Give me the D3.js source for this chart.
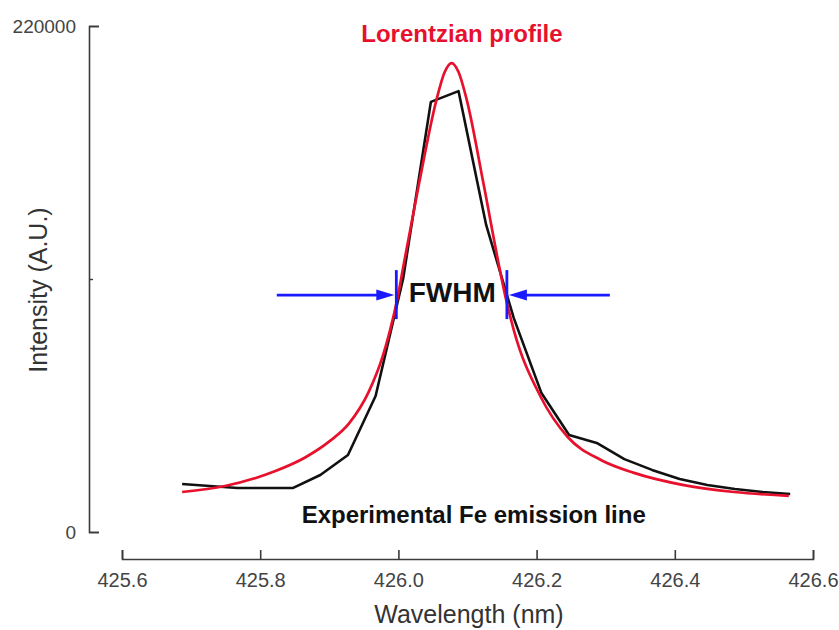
<!DOCTYPE html>
<html>
<head>
<meta charset="utf-8">
<script src="https://cdn.jsdelivr.net/npm/d3@7"></script>
<style>
  html, body { margin: 0; padding: 0; background: #fff; }
  svg { display: block; font-family: "Liberation Sans", Arial, sans-serif; }
</style>
</head>
<body>
<svg id="chart" width="839" height="630"></svg>
<script>
// Measured Fe I emission line (nm, arbitrary units)
const expWavelength = [425.687, 425.727, 425.767, 425.807, 425.847, 425.887, 425.927, 425.967,
  426.007, 426.047, 426.087, 426.127, 426.167, 426.207, 426.247, 426.287, 426.327, 426.367,
  426.407, 426.447, 426.487, 426.527, 426.567];
const expIntensity = [20900, 20000, 19100, 19100, 19100, 24800, 33500, 59100,
  110400, 187000, 191700, 133500, 93000, 60400, 42200, 38700, 31700, 27000,
  23000, 20400, 18700, 17400, 16500];

// Fitted Lorentzian profile, sampled along the curve
const lorWavelength = [425.687, 425.749, 425.822, 425.865, 425.901, 425.928, 425.957, 425.977,
  425.988, 425.999, 426.007, 426.030, 426.055, 426.067, 426.077, 426.087, 426.099, 426.123,
  426.146, 426.155, 426.167, 426.206, 426.245, 426.293, 426.341, 426.413, 426.486, 426.565];
const lorIntensity = [17400, 20000, 26500, 32400, 39600, 47000, 60900, 76100,
  87800, 102200, 115200, 151700, 187800, 200000, 203900, 200000, 187800, 151700,
  115200, 102200, 87800, 58700, 41300, 31300, 25700, 20400, 17400, 15700];

// Full width at half maximum markers
const fwhmLevel = 103000;
const fwhmEdges = [425.997, 426.157];
const fwhmArrowTails = [425.824, 426.306];

// Axis ticks
const xTicks = [425.6, 425.8, 426.0, 426.2, 426.4, 426.6];
const xTickLabels = ["425.6", "425.8", "426.0", "426.2", "426.4", "426.6"];
const yTicks = [0, 220000];
const yTickLabels = ["0", "220000"];
const yMinorTicks = [110000];

const svg = d3.select("#chart");
svg.append("rect").attr("width", 839).attr("height", 630).attr("fill", "#fff");

const x = d3.scaleLinear().domain([425.6, 426.6]).range([122, 813]);
const y = d3.scaleLinear().domain([0, 220000]).range([532, 26]);

const axisColor = "#3a3a3a";

// X axis, offset below the plot, ticks pointing up
const xAxis = svg.append("g")
  .attr("transform", `translate(0,559)`)
  .call(d3.axisBottom(x).tickValues(xTicks)
    .tickFormat((d, i) => xTickLabels[i])
    .tickSizeInner(-9).tickSizeOuter(-9).tickPadding(14));
xAxis.select(".domain").attr("stroke", axisColor).attr("stroke-width", 1.6);
xAxis.selectAll(".tick line").attr("stroke", axisColor).attr("stroke-width", 1.6);
xAxis.selectAll(".tick text").attr("font-size", 20).attr("fill", "#444")
  .attr("font-family", "'Liberation Sans', Arial, sans-serif");

// Y axis, ticks pointing right
const yAxis = svg.append("g")
  .attr("transform", `translate(89,0)`)
  .call(d3.axisLeft(y).tickValues(yTicks)
    .tickFormat((d, i) => yTickLabels[i])
    .tickSizeInner(-10).tickSizeOuter(-10).tickPadding(13));
yAxis.select(".domain").attr("stroke", axisColor).attr("stroke-width", 1.6);
yAxis.selectAll(".tick line").attr("stroke", axisColor).attr("stroke-width", 1.6);
yAxis.selectAll(".tick text").attr("font-size", 19).attr("fill", "#444")
  .attr("font-family", "'Liberation Sans', Arial, sans-serif");

const yMinor = svg.append("g")
  .attr("transform", `translate(89,0)`)
  .call(d3.axisLeft(y).tickValues(yMinorTicks).tickFormat("").tickSizeInner(-4).tickSizeOuter(0));
yMinor.select(".domain").remove();
yMinor.selectAll(".tick line").attr("stroke", axisColor).attr("stroke-width", 1.4);

// Axis titles
svg.append("text")
  .attr("x", 469).attr("y", 623)
  .attr("text-anchor", "middle")
  .attr("font-size", 25).attr("fill", "#333")
  .text("Wavelength (nm)");

svg.append("text")
  .attr("transform", "translate(47,290) rotate(-90)")
  .attr("text-anchor", "middle")
  .attr("font-size", 25).attr("fill", "#333")
  .text("Intensity (A.U.)");

// Curves
const expData = expWavelength.map((w, i) => [w, expIntensity[i]]);
const lorData = lorWavelength.map((w, i) => [w, lorIntensity[i]]);

svg.append("path")
  .datum(expData)
  .attr("d", d3.line().x(d => x(d[0])).y(d => y(d[1])).curve(d3.curveLinear))
  .attr("fill", "none")
  .attr("stroke", "#111")
  .attr("stroke-width", 2.6)
  .attr("stroke-linejoin", "round");

svg.append("path")
  .datum(lorData)
  .attr("d", d3.line().x(d => x(d[0])).y(d => y(d[1])).curve(d3.curveMonotoneX))
  .attr("fill", "none")
  .attr("stroke", "#e8112d")
  .attr("stroke-width", 2.7);

// FWHM markers
const blue = "#1a1aff";
const fy = y(fwhmLevel);
const g = svg.append("g");

fwhmEdges.forEach(e => {
  g.append("line")
    .attr("x1", x(e)).attr("x2", x(e))
    .attr("y1", fy - 25).attr("y2", fy + 24)
    .attr("stroke", blue).attr("stroke-width", 2.8);
});

function arrow(tailW, tipW) {
  const tx = x(tailW), hx = x(tipW);
  const dir = hx > tx ? 1 : -1;
  const tip = hx - dir * 2;
  const base = tip - dir * 18;
  g.append("line")
    .attr("x1", tx).attr("x2", base + dir * 2)
    .attr("y1", fy).attr("y2", fy)
    .attr("stroke", blue).attr("stroke-width", 2.8);
  g.append("path")
    .attr("d", `M${tip},${fy}L${base},${fy - 5.5}L${base},${fy + 5.5}Z`)
    .attr("fill", blue);
}
arrow(fwhmArrowTails[0], fwhmEdges[0]);
arrow(fwhmArrowTails[1], fwhmEdges[1]);

svg.append("text")
  .attr("x", x(426.078)).attr("y", y(100000))
  .attr("text-anchor", "middle")
  .attr("font-size", 28).attr("font-weight", "bold").attr("fill", "#111")
  .text("FWHM");

// Curve labels
svg.append("text")
  .attr("x", x(426.092)).attr("y", y(213000))
  .attr("text-anchor", "middle")
  .attr("font-size", 24).attr("font-weight", "bold").attr("fill", "#e8112d")
  .text("Lorentzian profile");

svg.append("text")
  .attr("x", x(426.109)).attr("y", y(3900))
  .attr("text-anchor", "middle")
  .attr("font-size", 24).attr("font-weight", "bold").attr("fill", "#111")
  .text("Experimental Fe emission line");
</script>
</body>
</html>
